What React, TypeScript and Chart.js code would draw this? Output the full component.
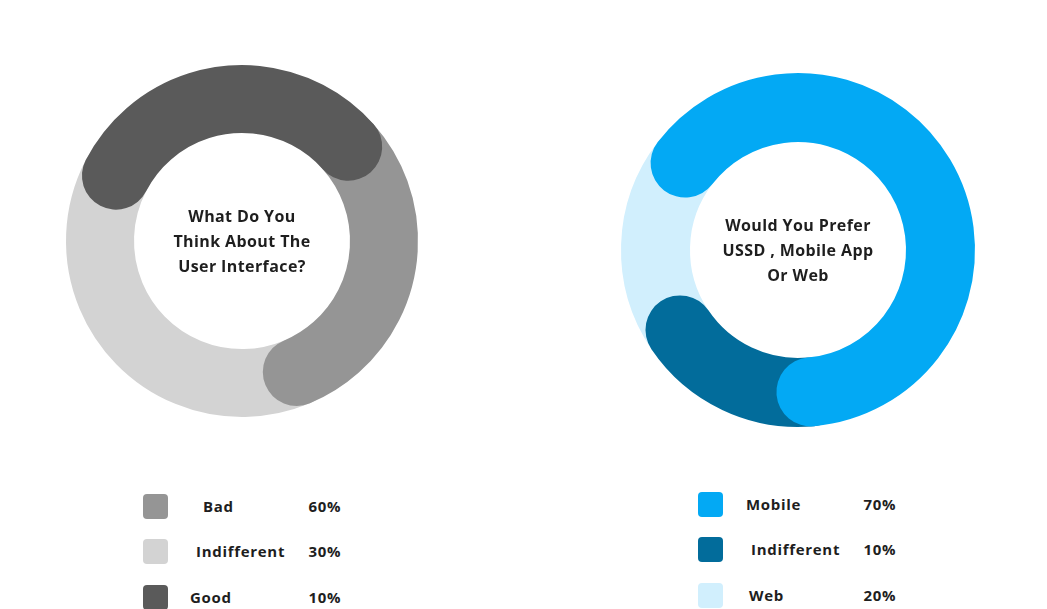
import React, { useEffect, useRef } from "react";
import { Chart, registerables } from "chart.js";

Chart.register(...registerables);

// ---- Data ----
// Left donut (arc spans in degrees as drawn, clockwise from the start angle)
const uiArcLabels = ["Good", "Bad", "Indifferent"];
const uiArcSpans = [111, 108.9, 140.1];
const uiArcColors = ["#5a5a5a", "#959595", "#d3d3d3"];
const uiRotation = -62.6;
const uiTitle = ["What Do You", "Think About The", "User Interface?"];

const uiLegendLabels = ["Bad", "Indifferent", "Good"];
const uiLegendValues = ["60%", "30%", "10%"];
const uiLegendColors = ["#959595", "#d3d3d3", "#5a5a5a"];

// Right donut
const prefArcLabels = ["Mobile", "Indifferent", "Web"];
const prefArcSpans = [227.2, 61.1, 71.7];
const prefArcColors = ["#03a9f4", "#026c9b", "#d1effd"];
const prefRotation = -52.4;
const prefTitle = ["Would You Prefer", "USSD , Mobile App", "Or Web"];

const prefLegendLabels = ["Mobile", "Indifferent", "Web"];
const prefLegendValues = ["70%", "10%", "20%"];
const prefLegendColors = ["#03a9f4", "#026c9b", "#d1effd"];

// ---- Layout ----
const FONT = "'Open Sans', 'Noto Sans', sans-serif";

const roundArcPlugin = {
  id: "roundArcs",
  beforeDatasetsDraw(chart: any) {
    const ctx = chart.ctx;
    const meta = chart.getDatasetMeta(0);
    const colors = chart.data.datasets[0].backgroundColor as string[];
    const els = meta.data as any[];
    ctx.save();
    for (let i = els.length - 1; i >= 0; i--) {
      const el = els[i];
      const p = el.getProps(["x", "y", "startAngle", "endAngle", "innerRadius", "outerRadius"], true);
      const r = (p.innerRadius + p.outerRadius) / 2;
      const w = p.outerRadius - p.innerRadius;
      ctx.beginPath();
      ctx.arc(p.x, p.y, r, p.startAngle, p.endAngle);
      ctx.lineWidth = w;
      ctx.lineCap = "round";
      ctx.strokeStyle = colors[i];
      ctx.stroke();
    }
    ctx.restore();
    return false;
  },
};

function Donut(props: {
  labels: string[];
  values: number[];
  colors: string[];
  rotation: number;
  size: number;
  padding: number;
  cutout: number;
}) {
  const ref = useRef<HTMLCanvasElement | null>(null);
  useEffect(() => {
    if (!ref.current) return;
    const chart = new Chart(ref.current, {
      type: "doughnut",
      data: {
        labels: props.labels,
        datasets: [
          {
            data: props.values,
            backgroundColor: props.colors,
            borderWidth: 0,
          },
        ],
      },
      options: {
        animation: false,
        responsive: false,
        rotation: props.rotation,
        cutout: props.cutout,
        layout: { padding: props.padding },
        plugins: { legend: { display: false }, tooltip: { enabled: false } },
        events: [],
      },
      plugins: [roundArcPlugin],
    });
    return () => chart.destroy();
  }, []);
  return <canvas ref={ref} width={props.size} height={props.size} style={{ width: props.size, height: props.size, display: "block" }} />;
}

function CenterText(props: { lines: string[]; cx: number; cy: number }) {
  return (
    <div
      style={{
        position: "absolute",
        left: props.cx - 110,
        top: props.cy - 37.5,
        width: 220,
        textAlign: "center",
        fontFamily: FONT,
        fontWeight: 700,
        fontSize: 16,
        lineHeight: "25px",
        color: "#1e1e1e",
        letterSpacing: 0.4,
      }}
    >
      {props.lines.map((l, i) => (
        <div key={i}>{l}</div>
      ))}
    </div>
  );
}

function Legend(props: {
  labels: string[];
  values: string[];
  colors: string[];
  boxX: number;
  labelX: number[];
  valueRight: number;
  rowY: number[];
}) {
  return (
    <>
      {props.labels.map((lab, i) => (
        <React.Fragment key={i}>
          <div
            style={{
              position: "absolute",
              left: props.boxX,
              top: props.rowY[i] - 12.5,
              width: 25,
              height: 25,
              borderRadius: 4,
              background: props.colors[i],
            }}
          />
          <div
            style={{
              position: "absolute",
              left: props.labelX[i],
              top: props.rowY[i] - 12,
              height: 24,
              lineHeight: "24px",
              fontFamily: FONT,
              fontWeight: 700,
              fontSize: 15,
              letterSpacing: 0.7,
              color: "#1e1e1e",
              whiteSpace: "nowrap",
            }}
          >
            {lab}
          </div>
          <div
            style={{
              position: "absolute",
              left: props.valueRight - 80,
              width: 80,
              textAlign: "right",
              top: props.rowY[i] - 12,
              height: 24,
              lineHeight: "24px",
              fontFamily: FONT,
              fontWeight: 700,
              fontSize: 15,
              letterSpacing: 0.6,
              color: "#1e1e1e",
            }}
          >
            {props.values[i]}
          </div>
        </React.Fragment>
      ))}
    </>
  );
}

export default function App() {
  const leftC = { x: 242, y: 241 };
  const rightC = { x: 798, y: 250 };
  const size = 380;
  return (
    <div style={{ position: "absolute", left: 0, top: 0, width: 1047, height: 609, background: "#fff", overflow: "hidden" }}>
      <div style={{ position: "absolute", left: leftC.x - size / 2, top: leftC.y - size / 2 }}>
        <Donut labels={uiArcLabels} values={uiArcSpans} colors={uiArcColors} rotation={uiRotation} size={size} padding={14} cutout={108} />
      </div>
      <div style={{ position: "absolute", left: rightC.x - size / 2, top: rightC.y - size / 2 }}>
        <Donut labels={prefArcLabels} values={prefArcSpans} colors={prefArcColors} rotation={prefRotation} size={size} padding={13} cutout={108} />
      </div>
      <CenterText lines={uiTitle} cx={242} cy={241} />
      <CenterText lines={prefTitle} cx={798} cy={250} />
      <Legend
        labels={uiLegendLabels}
        values={uiLegendValues}
        colors={uiLegendColors}
        boxX={143}
        labelX={[203, 196, 190]}
        valueRight={341}
        rowY={[506, 551, 597]}
      />
      <Legend
        labels={prefLegendLabels}
        values={prefLegendValues}
        colors={prefLegendColors}
        boxX={698}
        labelX={[746, 751, 749]}
        valueRight={896}
        rowY={[504, 549, 595]}
      />
    </div>
  );
}
